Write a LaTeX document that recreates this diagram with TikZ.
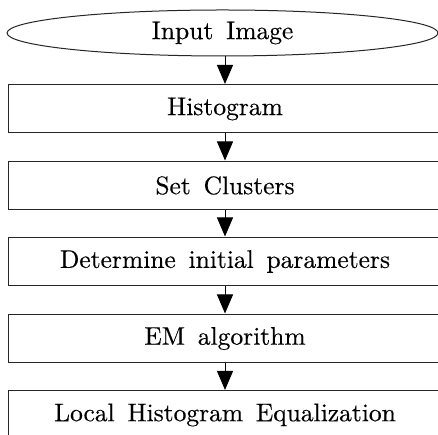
\documentclass[tikz,border=0pt]{standalone}
\usepackage{fontspec}
\usetikzlibrary{shapes.geometric,arrows.meta}
\newfontfamily\flowfamily{lmroman10-regular.otf}[FakeBold=0.3]
\newcommand{\flowfont}{\flowfamily\fontsize{25.5}{30}\selectfont\spaceskip 0.5em\relax}
\tikzset{
  x=1pt, y=1pt,
  label text/.style={font={\flowfont}, text=black},
  stepbox/.style={draw=black!85, line width=1pt, rectangle, minimum width=434pt, minimum height=48pt, inner sep=0pt, label text},
  startnode/.style={draw=black!85, line width=1pt, ellipse, minimum width=431pt, minimum height=46pt, inner sep=0pt, label text},
  flow/.style={draw=black, line width=1pt, -{Triangle[length=19pt,width=16pt]}, shorten >=0.5pt}
}
\begin{document}
\begin{tikzpicture}
  \fill[white] (0,0) rectangle (438,435);
  \useasboundingbox (0,0) rectangle (438,435);
  \clip (0,0) rectangle (438,435);

  \node[startnode] (input) at (222.5,402) {Input Image};
  \node[stepbox] (hist)  at (225,326) {Histogram};
  \node[stepbox] (clust) at (225,249.5) {Set Clusters};
  \node[stepbox] (init)  at (225,173.5) {Determine initial parameters};
  \node[stepbox] (em)    at (225,96.5) {EM algorithm};
  \node[stepbox] (lhe)   at (225,20) {Local Histogram Equalization};

  \draw[flow] (input.south -| hist.north) -- (hist.north);
  \draw[flow] (hist.south) -- (clust.north);
  \draw[flow] (clust.south) -- (init.north);
  \draw[flow] (init.south) -- (em.north);
  \draw[flow] (em.south) -- (lhe.north);
\end{tikzpicture}
\end{document}
